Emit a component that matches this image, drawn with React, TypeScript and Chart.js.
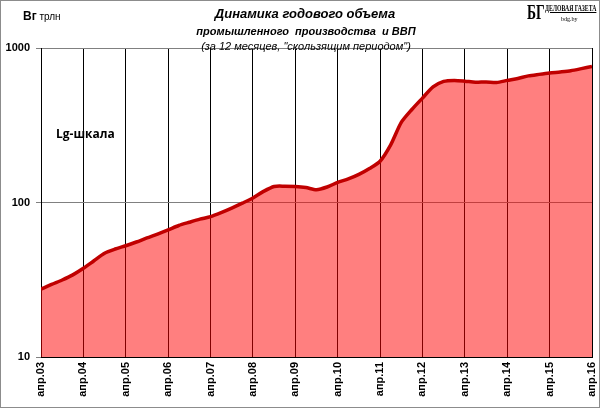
import React, { useEffect, useRef } from "react";
import { Chart, registerables } from "chart.js";

Chart.register(...registerables);

// months since April 2003
const months = [
  0, 3, 6, 9, 12, 15, 18, 21, 24, 27, 30, 33, 36, 39, 42, 45, 48, 51, 54, 57,
  60, 63, 66, 69, 72, 75, 78, 81, 84, 87, 90, 93, 96, 99, 102, 105, 108, 111,
  114, 117, 120, 123, 126, 129, 132, 135, 138, 141, 144, 147, 150, 153, 156,
];
// annual volume, trillion Br (log scale)
const values = [
  27.5, 29.5, 31.5, 34, 37.5, 42, 47, 50, 52.5, 55.5, 59, 62.5, 66.5, 71, 74.5,
  78, 81, 86, 92, 99, 107, 118, 127, 127.5, 127, 125, 121, 126, 135, 142, 152,
  166, 185, 236, 330, 400, 474, 560, 608, 617, 610, 600, 603, 598, 617, 635,
  660, 675, 689, 700, 713, 735, 760,
];
const yTicks = [10, 100, 1000];
const xTickStep = 12;
const firstYear = 3;

const titleLines = [
  "Динамика годового объема",
  "промышленного  производства  и ВВП",
  '(за 12 месяцев, "скользящим периодом")',
];

const FONT = "'Liberation Sans', Arial, sans-serif";

export default function App() {
  const canvasRef = useRef<HTMLCanvasElement | null>(null);

  useEffect(() => {
    const canvas = canvasRef.current;
    if (!canvas) return;
    const chart = new Chart(canvas, {
      type: "line",
      data: {
        datasets: [
          {
            data: months.map((m, i) => ({ x: m, y: values[i] })),
            borderColor: "#c00000",
            borderWidth: 3.5,
            backgroundColor: "rgba(255,0,0,0.5)",
            fill: "start",
            pointRadius: 0,
            tension: 0.25,
          },
        ],
      },
      options: {
        animation: false,
        responsive: false,
        maintainAspectRatio: false,
        layout: { padding: { top: 48, right: 8, left: 0, bottom: 0 } },
        plugins: {
          legend: { display: false },
          tooltip: { enabled: false },
        },
        scales: {
          x: {
            type: "linear",
            min: 0,
            max: 156,
            afterFit: (s: any) => {
              s.height = 51;
              s.paddingLeft = 0;
              s.paddingRight = 0;
            },
            afterBuildTicks: (s: any) => {
              const t: any[] = [];
              for (let v = 0; v <= 156; v += xTickStep) t.push({ value: v });
              s.ticks = t;
            },
            ticks: {
              autoSkip: false,
              maxRotation: 90,
              minRotation: 90,
              padding: 5,
              color: "#000",
              font: { family: FONT, size: 11, weight: "bold" },
              callback: (v: any) => {
                const yr = firstYear + Number(v) / 12;
                return "апр." + String(Math.round(yr)).padStart(2, "0");
              },
            },
            grid: { color: "#000", lineWidth: 1, drawTicks: false },
            border: { color: "#000", width: 1 },
          },
          y: {
            type: "logarithmic",
            min: 10,
            max: 1000,
            afterFit: (s: any) => {
              s.width = 41;
              s.paddingTop = 0;
              s.paddingBottom = 0;
            },
            afterBuildTicks: (s: any) => {
              s.ticks = yTicks.map((v) => ({ value: v }));
            },
            ticks: {
              padding: 6,
              color: "#000",
              font: { family: FONT, size: 11, weight: "bold" },
              callback: (v: any) => String(v),
            },
            grid: { color: "#808080", lineWidth: 1, tickLength: 5 },
            border: { color: "#000", width: 1 },
          },
        },
      },
    });
    return () => chart.destroy();
  }, []);

  const textBase: React.CSSProperties = {
    position: "absolute",
    whiteSpace: "pre",
    fontFamily: FONT,
    color: "#000",
    lineHeight: "14px",
    height: 14,
  };

  return (
    <div
      style={{
        position: "absolute",
        left: 0,
        top: 0,
        width: 600,
        height: 408,
        background: "#fff",
        overflow: "hidden",
      }}
    >
      <canvas
        ref={canvasRef}
        width={600}
        height={408}
        style={{ width: 600, height: 408, display: "block" }}
      />
      <div
        style={{
          ...textBase,
          left: 105,
          width: 400,
          top: 7,
          textAlign: "center",
          fontSize: 13,
          fontWeight: "bold",
          fontStyle: "italic",
        }}
      >
        {titleLines[0]}
      </div>
      <div
        style={{
          ...textBase,
          left: 106,
          width: 400,
          top: 24,
          textAlign: "center",
          fontSize: 11,
          fontWeight: "bold",
          fontStyle: "italic",
        }}
      >
        {titleLines[1]}
      </div>
      <div
        style={{
          ...textBase,
          left: 106,
          width: 400,
          top: 39,
          textAlign: "center",
          fontSize: 11,
          fontStyle: "italic",
        }}
      >
        {titleLines[2]}
      </div>
      <div style={{ ...textBase, left: 23, top: 9, fontSize: 11 }}>
        <span style={{ fontWeight: "bold", fontSize: 12 }}>Вг</span>
        <span style={{ fontSize: 10 }}> трлн</span>
      </div>
      <div
        style={{
          ...textBase,
          left: 56,
          top: 127,
          fontSize: 12,
          fontWeight: "bold",
          fontFamily: "'Open Sans', 'Noto Sans', sans-serif",
        }}
      >
        Lg-шкала
      </div>
      {/* logo */}
      <div
        style={{
          position: "absolute",
          left: 527,
          top: 1,
          fontFamily: "'Liberation Serif', serif",
          fontWeight: "bold",
          fontSize: 22,
          lineHeight: "22px",
          transform: "scaleX(0.62)",
          transformOrigin: "left top",
          whiteSpace: "nowrap",
        }}
      >
        БГ
      </div>
      <div
        style={{
          position: "absolute",
          left: 545,
          top: 4,
          fontFamily: "'Liberation Serif', serif",
          fontWeight: "bold",
          fontSize: 8,
          lineHeight: "9px",
          whiteSpace: "nowrap",
          textDecoration: "underline",
          transform: "scaleX(0.72)",
          transformOrigin: "left top",
        }}
      >
        ДЕЛОВАЯ ГАЗЕТА
      </div>
      <div
        style={{
          position: "absolute",
          left: 561,
          top: 15,
          fontFamily: "'Liberation Serif', serif",
          fontSize: 6,
          lineHeight: "8px",
          whiteSpace: "nowrap",
        }}
      >
        bdg.by
      </div>
      <div
        style={{
          position: "absolute",
          left: 0,
          top: 0,
          width: 600,
          height: 408,
          boxSizing: "border-box",
          border: "1px solid #8c8c8c",
          pointerEvents: "none",
        }}
      />
    </div>
  );
}
